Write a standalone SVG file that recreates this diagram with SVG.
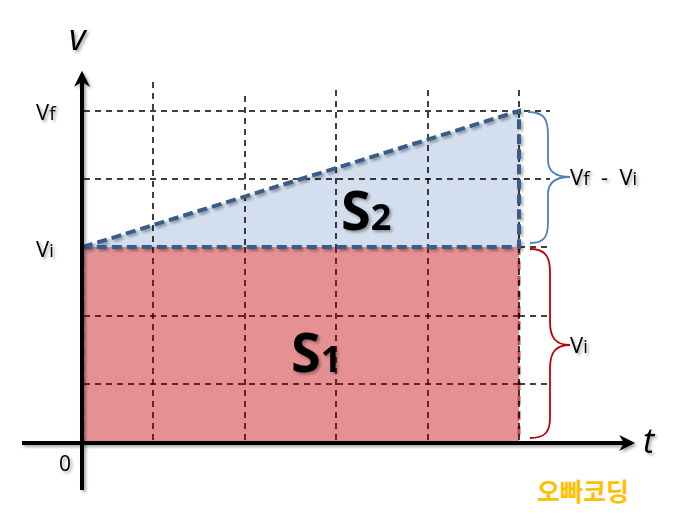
<svg xmlns="http://www.w3.org/2000/svg" width="696" height="523" viewBox="0 0 696 523">
<defs>
<style>
.grid{stroke:#000;stroke-width:1.5;stroke-dasharray:6 5;fill:none}
.gridd{stroke:#3a0000;stroke-width:1.5;stroke-dasharray:6 5;fill:none}
.axis{stroke:#000;stroke-width:4;fill:none}
.lbl{font-family:"Open Sans","Noto Sans",sans-serif;fill:#000}
.brace{fill:none;stroke-width:1.8}
</style>
<filter id="sh" filterUnits="userSpaceOnUse" x="0" y="0" width="696" height="523">
<feDropShadow dx="2" dy="2" stdDeviation="1.5" flood-color="#000" flood-opacity="0.35"/>
</filter>
<marker id="ah" viewBox="0 0 10 10" refX="8" refY="5" markerWidth="4" markerHeight="4" orient="auto">
<path d="M0,0 L10,5 L0,10 L3,5 Z" fill="#000"/>
</marker>
</defs>
<rect width="696" height="523" fill="#fff"/>
<g id="areas">
<g id="s1-area">
<rect x="83" y="247" width="436" height="196" fill="#E59193" stroke="#C0504D" stroke-width="3" stroke-dasharray="9 6"/>
</g>
<g id="s2-area">
<polygon points="83,247 519,111 519,247" fill="#D3DFEE"/>
</g>
</g>
<g id="grid">
<line class="grid" x1="153" y1="82" x2="153" y2="247"/>
<line class="grid" x1="245" y1="96" x2="245" y2="247"/>
<line class="grid" x1="336" y1="90" x2="336" y2="247"/>
<line class="grid" x1="428" y1="90" x2="428" y2="247"/>
<line class="grid" x1="519" y1="90" x2="519" y2="247"/>
<line class="gridd" x1="153" y1="247" x2="153" y2="443"/>
<line class="gridd" x1="245" y1="247" x2="245" y2="443"/>
<line class="gridd" x1="336" y1="247" x2="336" y2="443"/>
<line class="gridd" x1="428" y1="247" x2="428" y2="443"/>
<line class="grid" x1="519" y1="247" x2="519" y2="443"/>
<line class="grid" x1="84" y1="111" x2="550" y2="111"/>
<line class="grid" x1="84" y1="179" x2="550" y2="179"/>
<line class="grid" x1="519" y1="247" x2="550" y2="247"/>
<line class="gridd" x1="84" y1="316" x2="519" y2="316"/>
<line class="grid" x1="519" y1="316" x2="550" y2="316"/>
<line class="gridd" x1="84" y1="384" x2="519" y2="384"/>
<line class="grid" x1="519" y1="384" x2="550" y2="384"/>
</g>
<g id="connectors">
<polyline points="83,247 519,111 519,247 83,247" fill="none" stroke="#385D8A" stroke-width="4" stroke-dasharray="10 5" filter="url(#sh)"/>
<line class="axis" x1="82" y1="490" x2="82" y2="74" marker-end="url(#ah)" filter="url(#sh)"/>
<line class="axis" x1="22" y1="443" x2="632" y2="443" marker-end="url(#ah)" filter="url(#sh)"/>
<path class="brace" stroke="#4F81BD" d="M528,112 C545,112 548,120 548,135 L548,160 C548,172 556,177 570,177 C556,177 548,182 548,194 L548,222 C548,236 545,243 530,243"/>
<path class="brace" stroke="#C00000" d="M530,249 C545,249 550,256 550,272 L550,322 C550,338 556,345 570,345 C556,345 550,352 550,368 L550,418 C550,432 545,438 530,438"/>
</g>
<g id="labels" filter="url(#sh)">
<text class="lbl" x="69" y="50" font-size="36" font-style="italic" font-family="Liberation Sans,sans-serif">v</text>
<text class="lbl" x="36" y="120" font-size="22">V<tspan font-size="19">f</tspan></text>
<text class="lbl" x="36" y="257" font-size="22">V<tspan font-size="18">i</tspan></text>
<text class="lbl" x="59" y="471" font-size="21">0</text>
<text class="lbl" x="643" y="453" font-size="34" font-style="italic" font-family="Liberation Serif,serif">t</text>
<text class="lbl" x="570" y="185" font-size="22" xml:space="preserve">V<tspan font-size="19">f</tspan>  -  V<tspan font-size="18">i</tspan></text>
<text class="lbl" x="570" y="353" font-size="22">V<tspan font-size="18">i</tspan></text>
<text class="lbl" x="341" y="230" font-size="54" font-weight="bold">S<tspan font-size="36">2</tspan></text>
<text class="lbl" x="291" y="372" font-size="54" font-weight="bold">S<tspan font-size="36">1</tspan></text>
</g>
<g id="watermark">
<text x="537" y="501" font-size="25" font-weight="bold" fill="#FFC000" font-family="Noto Sans CJK KR,sans-serif">오빠코딩</text>
</g>
</svg>
